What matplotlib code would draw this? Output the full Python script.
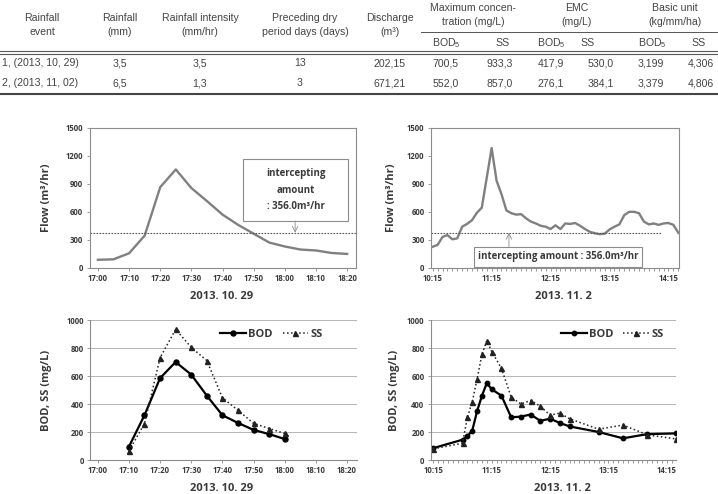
import matplotlib
matplotlib.use('Agg')
import matplotlib.pyplot as plt
from matplotlib.ticker import MultipleLocator

plt.rcParams['font.family'] = ['Open Sans', 'DejaVu Sans']
plt.rcParams['mathtext.default'] = 'regular'

# ---- table data ----
events = ['1, (2013, 10, 29)', '2, (2013, 11, 02)']
rainfall = ['3,5', '6,5']
intensity = ['3,5', '1,3']
dry_days = ['13', '3']
discharge = ['202,15', '671,21']
max_bod = ['700,5', '552,0']
max_ss = ['933,3', '857,0']
emc_bod = ['417,9', '276,1']
emc_ss = ['530,0', '384,1']
unit_bod = ['3,199', '3,379']
unit_ss = ['4,306', '4,806']

# ---- flow, 2013.10.29 ----
flow1_time = ['17:00', '17:05', '17:10', '17:15', '17:20', '17:25', '17:30', '17:35', '17:40',
              '17:45', '17:50', '17:55', '18:00', '18:05', '18:10', '18:15', '18:20']
flow1 = [85, 90, 155, 345, 865, 1055, 855, 715, 570, 460, 365, 270, 228, 195, 185, 158, 148]

# ---- flow, 2013.11.02 ----
flow2_time = ['10:15', '10:20', '10:25', '10:30', '10:35', '10:40', '10:45', '10:50', '10:55',
              '11:00', '11:05', '11:15', '11:20', '11:25', '11:30', '11:35', '11:40', '11:45',
              '11:50', '11:55', '12:00', '12:05', '12:10', '12:15', '12:20', '12:25', '12:30',
              '12:35', '12:40', '12:45', '12:50', '12:55', '13:00', '13:05', '13:10', '13:15',
              '13:20', '13:25', '13:30', '13:35', '13:40', '13:45', '13:50', '13:55', '14:00',
              '14:05', '14:10', '14:15', '14:20', '14:25']
flow2 = [225, 245, 330, 350, 305, 315, 440, 470, 510, 590, 645, 1285, 935, 790, 615, 585, 570,
         575, 530, 495, 475, 450, 440, 415, 455, 415, 475, 470, 480, 450, 415, 385, 370, 360,
         365, 410, 440, 465, 565, 600, 600, 585, 495, 465, 475, 460, 475, 480, 460, 375]
intercept_line = 375

# ---- water quality ----
wq1_time = ['17:10', '17:15', '17:20', '17:25', '17:30', '17:35', '17:40', '17:45', '17:50', '17:55', '18:00']
bod1 = [95, 320, 585, 700, 610, 460, 320, 265, 215, 185, 150]
ss1 = [65, 260, 730, 933, 805, 710, 445, 355, 262, 225, 190]

wq2_time = ['10:15', '10:45', '10:50', '10:55', '11:00', '11:05', '11:10', '11:15', '11:25', '11:35',
            '11:45', '11:55', '12:05', '12:15', '12:25', '12:35', '13:05', '13:30', '13:55', '14:25']
bod2 = [85, 145, 170, 210, 350, 460, 550, 505, 460, 305, 310, 325, 280, 295, 265, 240, 200, 155, 185, 190]
ss2 = [80, 120, 305, 415, 580, 755, 852, 775, 655, 450, 400, 425, 385, 320, 335, 295, 220, 250, 180, 150]


def minutes(times, start):
  h0, m0 = map(int, start.split(':'))
  out = []
  for t in times:
    h, m = map(int, t.split(':'))
    out.append((h * 60 + m) - (h0 * 60 + m0))
  return out


def hhmm(start, offs):
  h0, m0 = map(int, start.split(':'))
  return ['%d:%02d' % divmod(h0 * 60 + m0 + o, 60) for o in offs]


fig = plt.figure(figsize=(7.18, 4.94), dpi=100)

# ---- table drawn in pixel space ----
tab = fig.add_axes([0, 0, 1, 1])
tab.set_xlim(0, 718)
tab.set_ylim(494, 0)
tab.axis('off')
tfont = dict(family=['Liberation Sans', 'DejaVu Sans'], fontsize=7.6, color='#444444')

heads = [(42, 'Rainfall\nevent'), (120, 'Rainfall\n(mm)'), (200, 'Rainfall intensity\n(mm/hr)'),
         (305, 'Preceding dry\nperiod days (days)'), (390, 'Discharge\n(m³)')]
for x, s in heads:
  tab.text(x, 25, s, ha='center', va='center', linespacing=1.55, **tfont)
for x, s in [(473, 'Maximum concen-\ntration (mg/L)'), (577, 'EMC\n(mg/L)'), (675, 'Basic unit\n(kg/mm/ha)')]:
  tab.text(x, 15, s, ha='center', va='center', linespacing=1.55, **tfont)
for x, s in [(446, 'BOD$_5$'), (503, 'SS'), (551, 'BOD$_5$'), (588, 'SS'), (652, 'BOD$_5$'), (699, 'SS')]:
  tab.text(x, 43, s, ha='center', va='center', **tfont)

tab.plot([421, 718], [32, 32], color='#555555', lw=0.7)
tab.plot([0, 718], [51.3, 51.3], color='#555555', lw=0.8)
tab.plot([0, 718], [53.8, 53.8], color='#555555', lw=0.8)
tab.plot([0, 718], [94.5, 94.5], color='#444444', lw=1.5)

cols = [rainfall, intensity, dry_days, discharge, max_bod, max_ss, emc_bod, emc_ss, unit_bod, unit_ss]
col_x = [120, 200, 300, 390, 446, 500, 551, 601, 651, 701]
for i, y in enumerate([63, 83]):
  tab.text(2, y, events[i], ha='left', va='center', **tfont)
  for x, c in zip(col_x, cols):
    tab.text(x, y, c[i], ha='center', va='center', **tfont)

# ---- chart styling helpers ----
grey = '#8c8c8c'
txt = '#3a3a3a'


def style(ax, box=True):
  for s in ax.spines.values():
    s.set_color(grey)
    s.set_linewidth(0.8)
  if not box:
    ax.spines['top'].set_visible(False)
    ax.spines['right'].set_visible(False)
  ax.tick_params(axis='both', which='both', direction='out', length=2.5, width=0.6,
                 color=grey, labelsize=5.6, labelcolor=txt, pad=2)
  for lab in ax.get_xticklabels() + ax.get_yticklabels():
    lab.set_fontweight('bold')


def labels(ax, ylab, yx, date, dx):
  ax.text(yx, 0.5, ylab, transform=ax.transAxes, rotation=90, ha='center', va='center',
          fontsize=8, fontweight='bold', color=txt)
  ax.text(dx, -0.205, date, transform=ax.transAxes, ha='center', va='center',
          fontsize=8, fontweight='bold', color=txt)


# ---- flow 10.29 ----
ax1 = fig.add_axes([0.1247, 0.4581, 0.3705, 0.2828])
t1 = minutes(flow1_time, '17:00')
ax1.plot(t1, flow1, color='#808080', lw=1.7, solid_joinstyle='round')
ax1.axhline(intercept_line, color='#555555', lw=0.8, ls=(0, (1.5, 1.2)))
ax1.set_xlim(-2.7, 82.7)
ax1.set_ylim(0, 1500)
ax1.set_yticks(range(0, 1501, 300))
ticks1 = list(range(0, 81, 10))
ax1.set_xticks(ticks1)
ax1.set_xticklabels(hhmm('17:00', ticks1))
style(ax1)
labels(ax1, 'Flow (m³/hr)', -0.16, '2013. 10. 29', 0.497)
ax1.text(0.775, 0.556, 'intercepting\namount\n: 356.0m³/hr', transform=ax1.transAxes,
         ha='center', va='center', fontsize=7, fontweight='bold', color=txt, linespacing=1.65)
ax1.add_patch(plt.Rectangle((0.577, 0.334), 0.395, 0.444, transform=ax1.transAxes,
                            fill=False, ec=grey, lw=0.8))
ax1.annotate('', xy=(63.3, intercept_line), xytext=(63.3, 502),
             arrowprops=dict(arrowstyle='->', color=grey, lw=0.6, shrinkA=0, shrinkB=0))

# ---- flow 11.02 ----
ax2 = fig.add_axes([0.5999, 0.4581, 0.3462, 0.2828])
t2 = minutes(flow2_time, '10:15')
ax2.plot(t2, flow2, color='#808080', lw=1.7, solid_joinstyle='round')
ax2.hlines(intercept_line, -2, 233, color='#555555', lw=0.8, ls=(0, (1.5, 1.2)))
ax2.set_xlim(-2, 251)
ax2.set_ylim(0, 1500)
ax2.set_yticks(range(0, 1501, 300))
ticks2 = list(range(0, 241, 60))
ax2.set_xticks(ticks2)
ax2.set_xticklabels(hhmm('10:15', ticks2))
ax2.xaxis.set_minor_locator(MultipleLocator(5))
style(ax2)
labels(ax2, 'Flow (m³/hr)', -0.156, '2013. 11. 2', 0.533)
ax2.text(0.512, 0.077, 'intercepting amount : 356.0m³/hr', transform=ax2.transAxes,
         ha='center', va='center', fontsize=7, fontweight='bold', color=txt)
ax2.add_patch(plt.Rectangle((0.174, 0.005), 0.676, 0.143, transform=ax2.transAxes,
                            fill=False, ec=grey, lw=0.8))
ax2.annotate('', xy=(77.6, intercept_line), xytext=(77.6, 222),
             arrowprops=dict(arrowstyle='->', color=grey, lw=0.6, shrinkA=0, shrinkB=0))

# ---- quality 10.29 ----
ax3 = fig.add_axes([0.1253, 0.0688, 0.3719, 0.2834])
w1 = minutes(wq1_time, '17:00')
ax3.plot(w1, bod1, color='black', lw=1.6, marker='o', ms=3.6, label='BOD')
ax3.plot(w1, ss1, color='#222222', lw=1.1, ls=':', marker='^', ms=3.6, label='SS')
ax3.set_xlim(-2.5, 83.2)
ax3.set_ylim(0, 1000)
ax3.set_yticks(range(0, 1001, 200))
ax3.set_xticks(ticks1)
ax3.set_xticklabels(hhmm('17:00', ticks1))
ax3.grid(axis='y', color='#b5b5b5', lw=0.7)
ax3.set_axisbelow(True)
style(ax3, box=False)
labels(ax3, 'BOD, SS (mg/L)', -0.161, '2013. 10. 29', 0.493)
lg = ax3.legend(loc='center', bbox_to_anchor=(0.68, 0.9), ncol=2, frameon=False,
                handlelength=2.3, handletextpad=0.2, columnspacing=0.9,
                prop=dict(weight='bold', size=8))
for t in lg.get_texts():
  t.set_color(txt)

# ---- quality 11.02 ----
ax4 = fig.add_axes([0.5999, 0.0688, 0.3416, 0.2834])
w2 = minutes(wq2_time, '10:15')
ax4.plot(w2, bod2, color='black', lw=1.6, marker='o', ms=3.2, label='BOD')
ax4.plot(w2, ss2, color='#222222', lw=1.1, ls=':', marker='^', ms=3.6, label='SS')
ax4.set_xlim(-2.7, 249.5)
ax4.set_ylim(0, 1000)
ax4.set_yticks(range(0, 1001, 200))
ax4.set_xticks(ticks2)
ax4.set_xticklabels(hhmm('10:15', ticks2))
ax4.xaxis.set_minor_locator(MultipleLocator(5))
ax4.grid(axis='y', color='#b5b5b5', lw=0.7)
ax4.set_axisbelow(True)
style(ax4, box=False)
labels(ax4, 'BOD, SS (mg/L)', -0.146, '2013. 11. 2', 0.535)
lg = ax4.legend(loc='center', bbox_to_anchor=(0.74, 0.9), ncol=2, frameon=False,
                handlelength=2.3, handletextpad=0.2, columnspacing=0.9,
                prop=dict(weight='bold', size=8))
for t in lg.get_texts():
  t.set_color(txt)

fig.savefig('out.png', dpi=100)
